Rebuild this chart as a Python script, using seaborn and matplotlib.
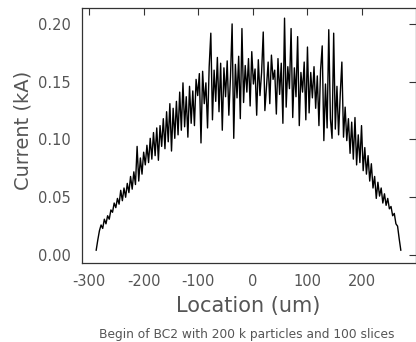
import matplotlib
matplotlib.use("Agg")
import matplotlib.pyplot as plt
import seaborn as sns
import numpy as np
import pandas as pd

"""Plot setup"""
sns.set_style("white")
plt.rcParams.update({
    "font.family": ["DejaVu Sans"],
    "axes.unicode_minus": False,
    "text.color": "#555555",
    "xtick.color": "#333333",
    "ytick.color": "#333333",
    "xtick.labelcolor": "#555555",
    "ytick.labelcolor": "#555555",
    "axes.labelcolor": "#555555",
})

# slice grid (um) and current per slice (kA)
loc_start, loc_step = -287, 3
current = [
    0.004, 0.013, 0.021, 0.026, 0.023, 0.031, 0.027, 0.034, 0.031, 0.039,
    0.037, 0.045, 0.041, 0.049, 0.044, 0.056, 0.047, 0.058, 0.050, 0.062,
    0.054, 0.068, 0.057, 0.072, 0.061, 0.094, 0.064, 0.084, 0.070, 0.089,
    0.078, 0.095, 0.080, 0.101, 0.083, 0.106, 0.086, 0.110, 0.082, 0.112,
    0.094, 0.118, 0.092, 0.124, 0.098, 0.131, 0.090, 0.127, 0.101, 0.133,
    0.104, 0.141, 0.108, 0.149, 0.111, 0.137, 0.102, 0.146, 0.114, 0.142,
    0.112, 0.152, 0.138, 0.157, 0.097, 0.159, 0.131, 0.149, 0.110, 0.163,
    0.192, 0.117, 0.160, 0.133, 0.171, 0.124, 0.166, 0.108, 0.162, 0.137,
    0.168, 0.121, 0.154, 0.200, 0.101, 0.165, 0.136, 0.172, 0.118, 0.196,
    0.132, 0.164, 0.141, 0.170, 0.129, 0.176, 0.148, 0.161, 0.121, 0.169,
    0.138, 0.158, 0.193, 0.125, 0.146, 0.167, 0.131, 0.173, 0.152, 0.160,
    0.122, 0.170, 0.139, 0.166, 0.114, 0.205, 0.128, 0.163, 0.144, 0.196,
    0.119, 0.162, 0.137, 0.189, 0.112, 0.158, 0.141, 0.167, 0.117, 0.180,
    0.123, 0.158, 0.136, 0.163, 0.127, 0.155, 0.112, 0.160, 0.181, 0.099,
    0.148, 0.110, 0.195, 0.118, 0.101, 0.192, 0.109, 0.146, 0.104, 0.139,
    0.167, 0.102, 0.128, 0.099, 0.118, 0.088, 0.115, 0.083, 0.119, 0.078,
    0.104, 0.080, 0.112, 0.073, 0.093, 0.070, 0.086, 0.064, 0.079, 0.058,
    0.068, 0.049, 0.063, 0.051, 0.058, 0.045, 0.053, 0.043, 0.049, 0.040,
    0.042, 0.034, 0.036, 0.027, 0.025, 0.014, 0.004,
]
location = loc_start + loc_step * np.arange(len(current))

x_ticks = [-300, -200, -100, 0, 100, 200]
y_ticks = [0.00, 0.05, 0.10, 0.15, 0.20]
y_ticklabels = ["0.00", "0.05", "0.10", "0.15", "0.20"]

df = pd.DataFrame({"Location": location, "Current": current})

fig = plt.figure(figsize=(4.16, 3.42), dpi=100)
ax = fig.add_axes([0.197, 0.231, 0.802, 0.746])

sns.lineplot(data=df, x="Location", y="Current", estimator=None,
             color="black", linewidth=1.0, ax=ax)

ax.set_xlim(-313, 298)
ax.set_ylim(-0.0069, 0.2139)
ax.set_xticks(x_ticks)
ax.set_xticklabels([str(t) for t in x_ticks])
ax.set_yticks(y_ticks)
ax.set_yticklabels(y_ticklabels)
ax.tick_params(direction="in", length=5, width=0.8, top=True, right=True,
               labeltop=False, labelright=False, labelsize=10.5)
ax.tick_params(axis="x", pad=8)
ax.tick_params(axis="y", pad=8)
for s in ax.spines.values():
    s.set_color("#333333")
    s.set_linewidth(0.9)

ax.set_xlabel("Location (um)", fontsize=15)
ax.xaxis.set_label_coords(0.498, -0.13)
ax.set_ylabel("Current (kA)", fontsize=14)
ax.yaxis.set_label_coords(-0.147, 0.518)
fig.text(0.594, 0.004, "Begin of BC2 with 200 k particles and 100 slices",
         ha="center", va="bottom", fontsize=8.8)

fig.savefig("out.png", dpi=100)
